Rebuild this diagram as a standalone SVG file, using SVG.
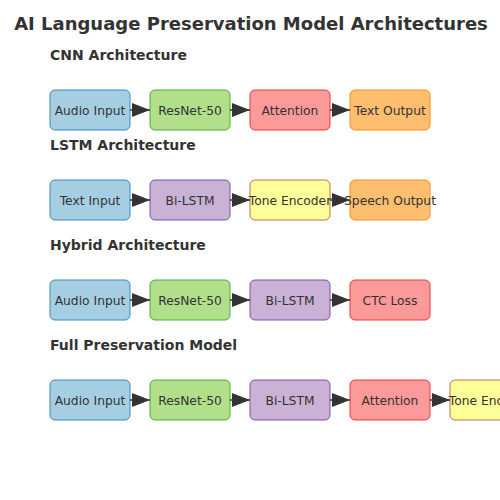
<svg xmlns="http://www.w3.org/2000/svg" width="500" height="500" viewBox="0 0 500 500">
<defs>
<marker id="ah" markerWidth="18" markerHeight="14" refX="18" refY="7" orient="auto" markerUnits="userSpaceOnUse">
<path d="M0,0 L18,7 L0,14 Z" fill="#333333"/>
</marker>
<style>
.t{font-family:"DejaVu Sans",sans-serif;font-weight:bold;fill:#333333;}
.title{font-size:18px;text-anchor:middle;}
.h{font-size:14px;}
.n rect{stroke-width:1;rx:5;ry:5;}
.n text{font-family:"DejaVu Sans",sans-serif;font-size:12.3px;fill:#333333;text-anchor:middle;}
.blue rect{fill:#a6cee3;stroke:#3a8ac4;}
.green rect{fill:#b2df8a;stroke:#4caa3e;}
.red rect{fill:#fb9a99;stroke:#e63a3b;}
.orange rect{fill:#fdbf6f;stroke:#ff8c1a;}
.purple rect{fill:#cab2d6;stroke:#7a52a6;}
.yellow rect{fill:#ffff99;stroke:#bd7441;}
.c line{stroke:#333333;stroke-width:1.5;marker-end:url(#ah);}
</style>
</defs>
<rect width="500" height="500" fill="#ffffff"/>
<text class="t title" x="251" y="30">AI Language Preservation Model Architectures</text>
<text class="t h" x="50" y="60">CNN Architecture</text>
<text class="t h" x="50" y="150">LSTM Architecture</text>
<text class="t h" x="50" y="250">Hybrid Architecture</text>
<text class="t h" x="50" y="350">Full Preservation Model</text>

<g id="cnn_audio" class="n blue"><rect x="50" y="90" width="80" height="40"/><text x="90" y="114.5">Audio Input</text></g>
<g id="cnn_resnet" class="n green"><rect x="150" y="90" width="80" height="40"/><text x="190" y="114.5">ResNet-50</text></g>
<g id="cnn_attention" class="n red"><rect x="250" y="90" width="80" height="40"/><text x="290" y="114.5">Attention</text></g>
<g id="cnn_text" class="n orange"><rect x="350" y="90" width="80" height="40"/><text x="390" y="114.5">Text Output</text></g>

<g id="lstm_text" class="n blue"><rect x="50" y="180" width="80" height="40"/><text x="90" y="204.5">Text Input</text></g>
<g id="lstm_bilstm" class="n purple"><rect x="150" y="180" width="80" height="40"/><text x="190" y="204.5">Bi-LSTM</text></g>
<g id="lstm_tone" class="n yellow"><rect x="250" y="180" width="80" height="40"/><text x="290" y="204.5">Tone Encoder</text></g>
<g id="lstm_speech" class="n orange"><rect x="350" y="180" width="80" height="40"/><text x="390" y="204.5">Speech Output</text></g>

<g id="hyb_audio" class="n blue"><rect x="50" y="280" width="80" height="40"/><text x="90" y="304.5">Audio Input</text></g>
<g id="hyb_resnet" class="n green"><rect x="150" y="280" width="80" height="40"/><text x="190" y="304.5">ResNet-50</text></g>
<g id="hyb_bilstm" class="n purple"><rect x="250" y="280" width="80" height="40"/><text x="290" y="304.5">Bi-LSTM</text></g>
<g id="hyb_ctc" class="n red"><rect x="350" y="280" width="80" height="40"/><text x="390" y="304.5">CTC Loss</text></g>

<g id="full_audio" class="n blue"><rect x="50" y="380" width="80" height="40"/><text x="90" y="404.5">Audio Input</text></g>
<g id="full_resnet" class="n green"><rect x="150" y="380" width="80" height="40"/><text x="190" y="404.5">ResNet-50</text></g>
<g id="full_bilstm" class="n purple"><rect x="250" y="380" width="80" height="40"/><text x="290" y="404.5">Bi-LSTM</text></g>
<g id="full_attention" class="n red"><rect x="350" y="380" width="80" height="40"/><text x="390" y="404.5">Attention</text></g>
<g id="full_tone" class="n yellow"><rect x="450" y="380" width="80" height="40"/><text x="490" y="404.5">Tone Encoder</text></g>

<g id="connectors" class="c">
<line x1="130" y1="110" x2="150" y2="110"/>
<line x1="230" y1="110" x2="250" y2="110"/>
<line x1="330" y1="110" x2="350" y2="110"/>
<line x1="130" y1="200" x2="150" y2="200"/>
<line x1="230" y1="200" x2="250" y2="200"/>
<line x1="330" y1="200" x2="350" y2="200"/>
<line x1="130" y1="300" x2="150" y2="300"/>
<line x1="230" y1="300" x2="250" y2="300"/>
<line x1="330" y1="300" x2="350" y2="300"/>
<line x1="130" y1="400" x2="150" y2="400"/>
<line x1="230" y1="400" x2="250" y2="400"/>
<line x1="330" y1="400" x2="350" y2="400"/>
<line x1="430" y1="400" x2="450" y2="400"/>
</g>
</svg>
